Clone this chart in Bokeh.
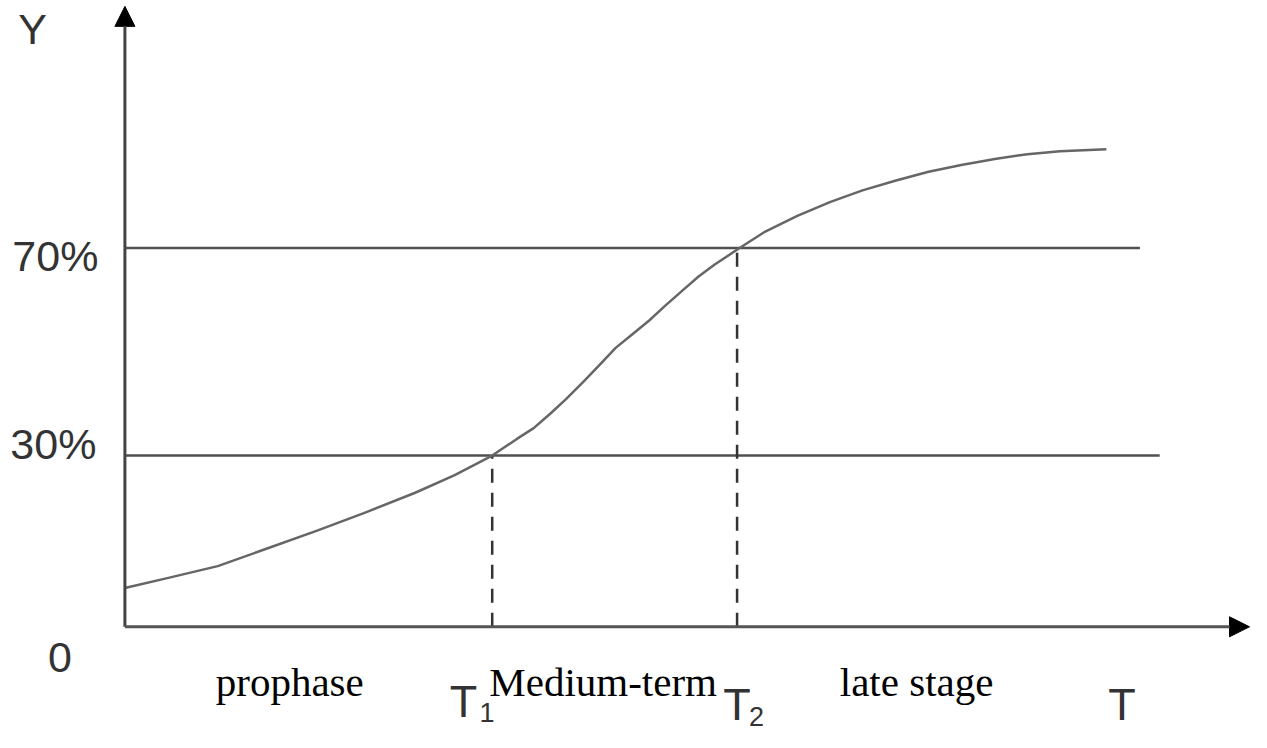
from bokeh.plotting import figure
from bokeh.models import Range1d, Arrow, NormalHead
from bokeh.core.properties import value
from bokeh.embed import file_html
from bokeh.resources import INLINE

# ---- data (x = time, y = cumulative level) ----
curve_t = [1, 44, 94, 144, 194, 244, 294, 334, 372, 397, 414, 431, 447, 464,
           481, 497, 514, 531, 547, 564, 581, 597, 621, 647, 681, 714, 747,
           781, 814, 847, 881, 914, 947, 994]
curve_y = [40, 50, 62, 80, 98, 117, 137, 155, 175, 192, 203, 218, 233, 250,
           268, 285, 299, 313, 328, 343, 358, 370, 386, 403, 420, 434, 446,
           456, 465, 472, 478, 483, 486, 488]

level_names = ["30%", "70%"]
level_values = [175, 387]
level_line_ends = [1048, 1028]

stage_times = [372, 620]          # T1, T2
stage_names = ["prophase", "Medium-term", "late stage"]
time_labels = ["T", "T", "T"]
time_subs = ["1", "2"]

W, H = 1251, 732

p = figure(width=W, height=H, output_backend="svg", toolbar_location=None,
           x_range=Range1d(-126, 1141), y_range=Range1d(-108, 640),
           min_border=0, outline_line_color=None)
p.xaxis.visible = False
p.yaxis.visible = False
p.grid.visible = False
p.background_fill_color = "white"
p.border_fill_color = "white"

# axes with arrows
p.add_layout(Arrow(end=NormalHead(size=20, fill_color="black", line_color="black"),
                   x_start=0, y_start=0, x_end=0, y_end=634,
                   line_width=3, line_color="#444"))
p.add_layout(Arrow(end=NormalHead(size=20, fill_color="black", line_color="black"),
                   x_start=0, y_start=0, x_end=1139, y_end=0,
                   line_width=3, line_color="#555"))

# level lines
p.segment(x0=[0, 0], y0=level_values, x1=level_line_ends, y1=level_values,
          line_width=2.5, line_color="#505050")

# dashed verticals at T1, T2
p.segment(x0=stage_times, y0=[0, 0], x1=stage_times, y1=level_values,
          line_width=2.5, line_color="#333", line_dash="14 10")

# S-curve
p.line(curve_t, curve_y, line_width=2.5, line_color="#666", line_join="round")

sans = value("Liberation Sans")
serif = value("Liberation Serif")

# y labels
p.text(x=[-116, -114], y=[187, 379], text=level_names, text_font=sans,
       text_font_size="43px", text_color="#333", text_baseline="alphabetic")
p.text(x=[-108], y=[611], text=["Y"], text_font=sans, text_font_size="43px",
       text_color="#333", text_baseline="alphabetic")
p.text(x=[-78], y=[-31], text=["0"], text_font=sans, text_font_size="43px",
       text_color="#333", text_baseline="alphabetic")

# stage names
p.text(x=[92, 369, 724], y=[-56, -56, -56], text=stage_names, text_font=serif,
       text_font_size="41px", text_color="black", text_baseline="alphabetic")

# time labels
p.text(x=[329, 606, 996], y=[-76, -79, -79], text=time_labels, text_font=sans,
       text_font_size="45px", text_color="#333", text_baseline="alphabetic")
p.text(x=[359, 632], y=[-88, -92], text=time_subs, text_font=sans,
       text_font_size="27px", text_color="#333", text_baseline="alphabetic")

open("out.html", "w").write(file_html(p, INLINE))
